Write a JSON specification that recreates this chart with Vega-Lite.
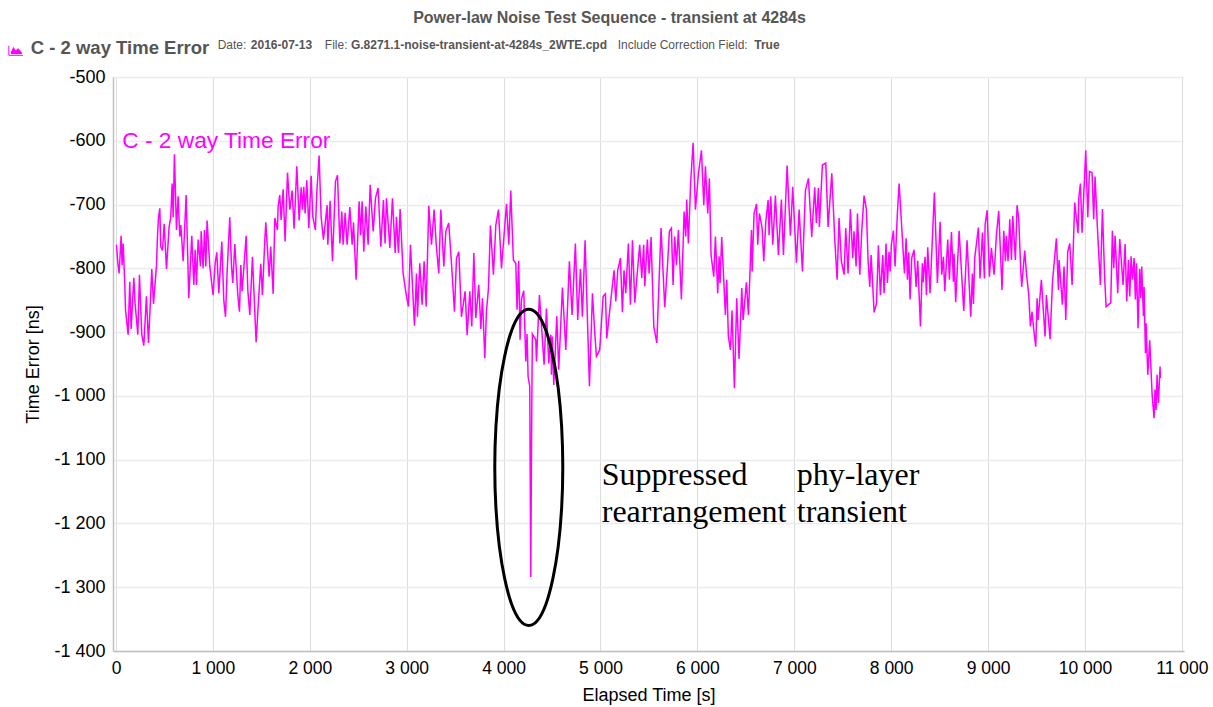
{"$schema":"https://vega.github.io/schema/vega-lite/v6.json","width":1071,"height":574,"autosize":{"type":"none"},"padding":{"left":113,"top":77,"right":29,"bottom":56},"background":"white","title":{"text":"Power-law Noise Test Sequence - transient at 4284s","anchor":"middle","dx":-39,"offset":13,"fontSize":16,"fontWeight":"bold","color":"#555555","font":"Liberation Sans"},"config":{"view":{"stroke":null},"font":"Liberation Sans"},"encoding":{"x":{"field":"t","type":"quantitative","scale":{"domain":[-31,11022],"nice":false,"zero":false},"axis":{"title":"Elapsed Time [s]","titleFontSize":18,"titleFontWeight":"normal","titleColor":"#000000","titlePadding":10,"labelFontSize":17.5,"labelColor":"#000000","labelPadding":8,"tickSize":0,"values":[0,1000,2000,3000,4000,5000,6000,7000,8000,9000,10000,11000],"labelExpr":"replace(format(datum.value, ','), ',', ' ')","gridColor":"#dddddd","gridWidth":1,"domainColor":"#c0c0c0","domainWidth":1.5,"labelFlush":false}},"y":{"field":"v","type":"quantitative","scale":{"domain":[-1400,-500],"nice":false,"zero":false},"axis":{"title":"Time Error [ns]","titleFontSize":18,"titleFontWeight":"normal","titleColor":"#000000","titlePadding":11,"labelFontSize":18,"labelColor":"#000000","labelPadding":8,"tickSize":0,"values":[-1400,-1300,-1200,-1100,-1000,-900,-800,-700,-600,-500],"labelExpr":"replace(replace(format(datum.value, ','), ',', ' '), '−', '-')","gridColor":"#ebebeb","gridWidth":1.5,"domainColor":"#c0c0c0","domainWidth":1.5}}},"layer":[{"data":{"values":[{"t":5,"v":-763},{"t":19,"v":-792},{"t":32,"v":-808},{"t":53,"v":-749},{"t":63,"v":-795},{"t":74,"v":-761},{"t":91,"v":-826},{"t":98,"v":-865},{"t":125,"v":-904},{"t":142,"v":-821},{"t":156,"v":-895},{"t":184,"v":-815},{"t":197,"v":-855},{"t":225,"v":-904},{"t":242,"v":-810},{"t":266,"v":-904},{"t":287,"v":-921},{"t":314,"v":-844},{"t":335,"v":-917},{"t":356,"v":-849},{"t":369,"v":-801},{"t":387,"v":-856},{"t":418,"v":-795},{"t":428,"v":-750},{"t":438,"v":-721},{"t":452,"v":-706},{"t":462,"v":-766},{"t":480,"v":-772},{"t":497,"v":-730},{"t":521,"v":-801},{"t":548,"v":-735},{"t":565,"v":-720},{"t":579,"v":-667},{"t":590,"v":-720},{"t":603,"v":-621},{"t":624,"v":-740},{"t":641,"v":-687},{"t":658,"v":-750},{"t":669,"v":-732},{"t":693,"v":-789},{"t":724,"v":-685},{"t":751,"v":-847},{"t":782,"v":-749},{"t":803,"v":-826},{"t":817,"v":-771},{"t":830,"v":-826},{"t":848,"v":-755},{"t":872,"v":-797},{"t":879,"v":-742},{"t":899,"v":-800},{"t":913,"v":-740},{"t":927,"v":-797},{"t":940,"v":-725},{"t":968,"v":-797},{"t":1002,"v":-842},{"t":1023,"v":-792},{"t":1040,"v":-775},{"t":1061,"v":-839},{"t":1092,"v":-758},{"t":1112,"v":-849},{"t":1130,"v":-876},{"t":1147,"v":-805},{"t":1174,"v":-720},{"t":1192,"v":-797},{"t":1205,"v":-823},{"t":1226,"v":-762},{"t":1257,"v":-842},{"t":1274,"v":-868},{"t":1288,"v":-795},{"t":1302,"v":-836},{"t":1343,"v":-749},{"t":1360,"v":-834},{"t":1381,"v":-873},{"t":1408,"v":-782},{"t":1446,"v":-916},{"t":1470,"v":-852},{"t":1494,"v":-793},{"t":1511,"v":-842},{"t":1536,"v":-755},{"t":1546,"v":-728},{"t":1580,"v":-813},{"t":1597,"v":-766},{"t":1622,"v":-840},{"t":1639,"v":-721},{"t":1666,"v":-740},{"t":1673,"v":-703},{"t":1690,"v":-685},{"t":1704,"v":-724},{"t":1725,"v":-676},{"t":1745,"v":-758},{"t":1770,"v":-650},{"t":1794,"v":-708},{"t":1818,"v":-678},{"t":1838,"v":-738},{"t":1866,"v":-640},{"t":1890,"v":-725},{"t":1911,"v":-673},{"t":1924,"v":-708},{"t":1938,"v":-672},{"t":1952,"v":-714},{"t":1969,"v":-662},{"t":1990,"v":-737},{"t":2014,"v":-655},{"t":2031,"v":-719},{"t":2058,"v":-740},{"t":2072,"v":-682},{"t":2096,"v":-623},{"t":2117,"v":-720},{"t":2141,"v":-755},{"t":2179,"v":-701},{"t":2186,"v":-763},{"t":2210,"v":-694},{"t":2234,"v":-789},{"t":2265,"v":-664},{"t":2286,"v":-654},{"t":2310,"v":-761},{"t":2330,"v":-711},{"t":2344,"v":-763},{"t":2365,"v":-713},{"t":2385,"v":-763},{"t":2413,"v":-704},{"t":2437,"v":-763},{"t":2451,"v":-728},{"t":2478,"v":-818},{"t":2509,"v":-695},{"t":2525,"v":-748},{"t":2540,"v":-695},{"t":2557,"v":-774},{"t":2578,"v":-703},{"t":2602,"v":-763},{"t":2623,"v":-669},{"t":2654,"v":-742},{"t":2678,"v":-690},{"t":2705,"v":-674},{"t":2733,"v":-766},{"t":2760,"v":-693},{"t":2777,"v":-761},{"t":2791,"v":-690},{"t":2826,"v":-768},{"t":2853,"v":-690},{"t":2881,"v":-776},{"t":2894,"v":-719},{"t":2915,"v":-776},{"t":2932,"v":-707},{"t":2963,"v":-808},{"t":2998,"v":-844},{"t":3018,"v":-860},{"t":3039,"v":-763},{"t":3080,"v":-890},{"t":3101,"v":-808},{"t":3111,"v":-876},{"t":3135,"v":-792},{"t":3159,"v":-857},{"t":3180,"v":-789},{"t":3201,"v":-860},{"t":3228,"v":-702},{"t":3256,"v":-763},{"t":3283,"v":-708},{"t":3304,"v":-761},{"t":3331,"v":-808},{"t":3352,"v":-708},{"t":3383,"v":-797},{"t":3404,"v":-742},{"t":3434,"v":-729},{"t":3469,"v":-808},{"t":3493,"v":-868},{"t":3514,"v":-784},{"t":3538,"v":-774},{"t":3565,"v":-876},{"t":3603,"v":-836},{"t":3624,"v":-905},{"t":3651,"v":-836},{"t":3672,"v":-891},{"t":3693,"v":-776},{"t":3713,"v":-878},{"t":3744,"v":-826},{"t":3765,"v":-895},{"t":3782,"v":-847},{"t":3806,"v":-941},{"t":3823,"v":-868},{"t":3844,"v":-831},{"t":3864,"v":-733},{"t":3895,"v":-810},{"t":3920,"v":-732},{"t":3947,"v":-708},{"t":3978,"v":-800},{"t":4030,"v":-699},{"t":4054,"v":-763},{"t":4074,"v":-678},{"t":4101,"v":-787},{"t":4126,"v":-792},{"t":4139,"v":-865},{"t":4156,"v":-788},{"t":4170,"v":-912},{"t":4184,"v":-849},{"t":4208,"v":-835},{"t":4229,"v":-946},{"t":4242,"v":-903},{"t":4253,"v":-970},{"t":4270,"v":-985},{"t":4280,"v":-1284},{"t":4291,"v":-1015},{"t":4297,"v":-903},{"t":4332,"v":-912},{"t":4339,"v":-946},{"t":4370,"v":-842},{"t":4418,"v":-951},{"t":4442,"v":-863},{"t":4466,"v":-949},{"t":4487,"v":-904},{"t":4494,"v":-967},{"t":4504,"v":-907},{"t":4518,"v":-983},{"t":4549,"v":-875},{"t":4569,"v":-959},{"t":4607,"v":-830},{"t":4642,"v":-928},{"t":4679,"v":-789},{"t":4707,"v":-873},{"t":4741,"v":-761},{"t":4765,"v":-881},{"t":4793,"v":-801},{"t":4813,"v":-876},{"t":4841,"v":-756},{"t":4886,"v":-985},{"t":4917,"v":-839},{"t":4941,"v":-902},{"t":4958,"v":-938},{"t":4992,"v":-928},{"t":5027,"v":-844},{"t":5051,"v":-840},{"t":5065,"v":-910},{"t":5103,"v":-855},{"t":5140,"v":-803},{"t":5158,"v":-852},{"t":5178,"v":-803},{"t":5206,"v":-784},{"t":5226,"v":-869},{"t":5243,"v":-803},{"t":5261,"v":-839},{"t":5288,"v":-761},{"t":5309,"v":-857},{"t":5330,"v":-756},{"t":5354,"v":-854},{"t":5388,"v":-792},{"t":5405,"v":-763},{"t":5426,"v":-815},{"t":5446,"v":-763},{"t":5457,"v":-828},{"t":5484,"v":-755},{"t":5502,"v":-808},{"t":5522,"v":-751},{"t":5550,"v":-891},{"t":5581,"v":-917},{"t":5605,"v":-818},{"t":5625,"v":-737},{"t":5663,"v":-861},{"t":5691,"v":-797},{"t":5711,"v":-742},{"t":5732,"v":-737},{"t":5749,"v":-826},{"t":5766,"v":-750},{"t":5784,"v":-795},{"t":5804,"v":-740},{"t":5835,"v":-849},{"t":5863,"v":-711},{"t":5880,"v":-750},{"t":5890,"v":-692},{"t":5907,"v":-761},{"t":5931,"v":-664},{"t":5956,"v":-603},{"t":5980,"v":-708},{"t":6011,"v":-651},{"t":6042,"v":-615},{"t":6066,"v":-701},{"t":6083,"v":-640},{"t":6107,"v":-714},{"t":6124,"v":-659},{"t":6141,"v":-779},{"t":6169,"v":-813},{"t":6186,"v":-750},{"t":6210,"v":-839},{"t":6224,"v":-781},{"t":6234,"v":-823},{"t":6251,"v":-751},{"t":6289,"v":-873},{"t":6303,"v":-818},{"t":6320,"v":-907},{"t":6341,"v":-928},{"t":6358,"v":-866},{"t":6382,"v":-988},{"t":6406,"v":-847},{"t":6430,"v":-942},{"t":6458,"v":-831},{"t":6472,"v":-881},{"t":6506,"v":-822},{"t":6527,"v":-873},{"t":6558,"v":-740},{"t":6565,"v":-805},{"t":6585,"v":-714},{"t":6610,"v":-699},{"t":6623,"v":-763},{"t":6640,"v":-714},{"t":6668,"v":-737},{"t":6685,"v":-789},{"t":6706,"v":-727},{"t":6730,"v":-693},{"t":6740,"v":-748},{"t":6757,"v":-687},{"t":6778,"v":-763},{"t":6805,"v":-686},{"t":6836,"v":-779},{"t":6867,"v":-692},{"t":6888,"v":-779},{"t":6926,"v":-639},{"t":6960,"v":-749},{"t":6984,"v":-672},{"t":7022,"v":-791},{"t":7050,"v":-708},{"t":7084,"v":-805},{"t":7115,"v":-678},{"t":7146,"v":-659},{"t":7180,"v":-751},{"t":7211,"v":-673},{"t":7228,"v":-729},{"t":7249,"v":-674},{"t":7259,"v":-735},{"t":7290,"v":-638},{"t":7325,"v":-635},{"t":7349,"v":-735},{"t":7387,"v":-651},{"t":7418,"v":-755},{"t":7442,"v":-818},{"t":7462,"v":-721},{"t":7486,"v":-789},{"t":7514,"v":-810},{"t":7531,"v":-737},{"t":7555,"v":-808},{"t":7579,"v":-707},{"t":7603,"v":-784},{"t":7617,"v":-742},{"t":7638,"v":-797},{"t":7652,"v":-714},{"t":7676,"v":-810},{"t":7696,"v":-742},{"t":7720,"v":-686},{"t":7744,"v":-707},{"t":7762,"v":-789},{"t":7779,"v":-829},{"t":7793,"v":-779},{"t":7824,"v":-869},{"t":7848,"v":-855},{"t":7868,"v":-764},{"t":7889,"v":-842},{"t":7913,"v":-779},{"t":7927,"v":-839},{"t":7947,"v":-761},{"t":7961,"v":-823},{"t":7978,"v":-774},{"t":7989,"v":-805},{"t":8002,"v":-763},{"t":8023,"v":-741},{"t":8040,"v":-797},{"t":8064,"v":-714},{"t":8082,"v":-667},{"t":8137,"v":-808},{"t":8154,"v":-753},{"t":8168,"v":-818},{"t":8181,"v":-775},{"t":8195,"v":-849},{"t":8212,"v":-784},{"t":8236,"v":-771},{"t":8257,"v":-829},{"t":8274,"v":-788},{"t":8302,"v":-891},{"t":8322,"v":-792},{"t":8329,"v":-822},{"t":8350,"v":-782},{"t":8364,"v":-842},{"t":8377,"v":-767},{"t":8401,"v":-839},{"t":8425,"v":-754},{"t":8446,"v":-681},{"t":8477,"v":-823},{"t":8505,"v":-727},{"t":8522,"v":-810},{"t":8539,"v":-782},{"t":8553,"v":-836},{"t":8584,"v":-755},{"t":8601,"v":-818},{"t":8622,"v":-743},{"t":8642,"v":-821},{"t":8649,"v":-777},{"t":8666,"v":-853},{"t":8701,"v":-741},{"t":8749,"v":-867},{"t":8783,"v":-756},{"t":8821,"v":-876},{"t":8838,"v":-808},{"t":8849,"v":-856},{"t":8862,"v":-784},{"t":8900,"v":-736},{"t":8917,"v":-816},{"t":8942,"v":-744},{"t":8962,"v":-816},{"t":8969,"v":-732},{"t":8990,"v":-709},{"t":9014,"v":-813},{"t":9034,"v":-768},{"t":9062,"v":-810},{"t":9086,"v":-748},{"t":9110,"v":-710},{"t":9144,"v":-834},{"t":9162,"v":-741},{"t":9179,"v":-789},{"t":9189,"v":-749},{"t":9206,"v":-789},{"t":9224,"v":-723},{"t":9241,"v":-787},{"t":9255,"v":-718},{"t":9282,"v":-787},{"t":9299,"v":-701},{"t":9316,"v":-721},{"t":9337,"v":-802},{"t":9347,"v":-829},{"t":9378,"v":-772},{"t":9396,"v":-808},{"t":9420,"v":-842},{"t":9437,"v":-891},{"t":9454,"v":-868},{"t":9471,"v":-896},{"t":9492,"v":-923},{"t":9506,"v":-847},{"t":9516,"v":-881},{"t":9550,"v":-818},{"t":9588,"v":-907},{"t":9602,"v":-842},{"t":9640,"v":-911},{"t":9664,"v":-823},{"t":9678,"v":-798},{"t":9705,"v":-753},{"t":9726,"v":-834},{"t":9733,"v":-787},{"t":9767,"v":-857},{"t":9784,"v":-797},{"t":9802,"v":-881},{"t":9822,"v":-774},{"t":9843,"v":-761},{"t":9867,"v":-826},{"t":9894,"v":-697},{"t":9929,"v":-745},{"t":9936,"v":-690},{"t":9953,"v":-667},{"t":9970,"v":-744},{"t":10008,"v":-615},{"t":10029,"v":-720},{"t":10046,"v":-648},{"t":10073,"v":-650},{"t":10090,"v":-723},{"t":10104,"v":-656},{"t":10128,"v":-735},{"t":10159,"v":-826},{"t":10180,"v":-707},{"t":10204,"v":-818},{"t":10218,"v":-860},{"t":10242,"v":-857},{"t":10266,"v":-854},{"t":10283,"v":-741},{"t":10297,"v":-800},{"t":10311,"v":-749},{"t":10338,"v":-839},{"t":10359,"v":-754},{"t":10393,"v":-826},{"t":10414,"v":-762},{"t":10431,"v":-852},{"t":10448,"v":-787},{"t":10462,"v":-844},{"t":10476,"v":-781},{"t":10490,"v":-818},{"t":10507,"v":-784},{"t":10520,"v":-849},{"t":10531,"v":-792},{"t":10548,"v":-894},{"t":10565,"v":-801},{"t":10576,"v":-847},{"t":10586,"v":-797},{"t":10603,"v":-875},{"t":10610,"v":-829},{"t":10624,"v":-933},{"t":10631,"v":-886},{"t":10648,"v":-967},{"t":10668,"v":-913},{"t":10693,"v":-998},{"t":10713,"v":-1035},{"t":10723,"v":-990},{"t":10734,"v":-1022},{"t":10744,"v":-967},{"t":10758,"v":-1011},{"t":10775,"v":-954},{"t":10778,"v":-972}]},"mark":{"type":"line","color":"#ff00ff","strokeWidth":1.5,"interpolate":"linear"}},{"data":{"values":[{"i":0,"t":4611,"v":-1112},{"i":1,"t":4599,"v":-1048},{"i":2,"t":4564,"v":-988},{"i":3,"t":4508,"v":-937},{"i":4,"t":4436,"v":-897},{"i":5,"t":4351,"v":-872},{"i":6,"t":4260,"v":-864},{"i":7,"t":4169,"v":-872},{"i":8,"t":4084,"v":-897},{"i":9,"t":4012,"v":-937},{"i":10,"t":3956,"v":-988},{"i":11,"t":3921,"v":-1048},{"i":12,"t":3909,"v":-1112},{"i":13,"t":3921,"v":-1176},{"i":14,"t":3956,"v":-1236},{"i":15,"t":4012,"v":-1287},{"i":16,"t":4084,"v":-1327},{"i":17,"t":4169,"v":-1352},{"i":18,"t":4260,"v":-1360},{"i":19,"t":4351,"v":-1352},{"i":20,"t":4436,"v":-1327},{"i":21,"t":4508,"v":-1287},{"i":22,"t":4564,"v":-1236},{"i":23,"t":4599,"v":-1176}]},"mark":{"type":"line","color":"#000000","strokeWidth":3,"interpolate":"cardinal-closed"},"encoding":{"order":{"field":"i","type":"quantitative"}}},{"data":{"values":[{"t":-1085,"v":-461,"b":-464},{"t":-1060,"v":-453,"b":-464},{"t":-1035,"v":-458,"b":-464},{"t":-1010,"v":-455,"b":-464},{"t":-990,"v":-458,"b":-464},{"t":-970,"v":-462,"b":-464}]},"mark":{"type":"area","color":"#ff00ff"},"encoding":{"y2":{"field":"b"}}},{"data":{"values":[{"i":0,"t":-1106,"v":-451},{"i":1,"t":-1106,"v":-466},{"i":2,"t":-960,"v":-466}]},"mark":{"type":"line","color":"#ff00ff","strokeWidth":1},"encoding":{"order":{"field":"i","type":"quantitative"}}},{"data":{"values":[{"t":-880,"v":-464,"label":"C - 2 way Time Error"}]},"mark":{"type":"text","align":"left","baseline":"alphabetic","fontSize":18.5,"fontWeight":"bold","color":"#555555","font":"Liberation Sans"},"encoding":{"text":{"field":"label"}}},{"data":{"values":[{"t":1049,"v":-456,"label":"Date:"},{"t":2155,"v":-456,"label":"File:"},{"t":5177,"v":-456,"label":"Include Correction Field:"}]},"mark":{"type":"text","align":"left","baseline":"alphabetic","fontSize":12,"color":"#555555","font":"Liberation Sans"},"encoding":{"text":{"field":"label"}}},{"data":{"values":[{"t":1391,"v":-456,"label":"2016-07-13"},{"t":2424,"v":-456,"label":"G.8271.1-noise-transient-at-4284s_2WTE.cpd"},{"t":6587,"v":-456,"label":"True"}]},"mark":{"type":"text","align":"left","baseline":"alphabetic","fontSize":12,"fontWeight":"bold","color":"#555555","font":"Liberation Sans"},"encoding":{"text":{"field":"label"}}},{"data":{"values":[{"t":65,"v":-611,"label":"C - 2 way Time Error"}]},"mark":{"type":"text","align":"left","baseline":"alphabetic","fontSize":22.7,"color":"#ff00ff","font":"Liberation Sans"},"encoding":{"text":{"field":"label"}}},{"data":{"values":[{"t":5013,"v":-1140,"label":"Suppressed"},{"t":5013,"v":-1197,"label":"rearrangement"},{"t":7026,"v":-1140,"label":"phy-layer"},{"t":7026,"v":-1197,"label":"transient"}]},"mark":{"type":"text","align":"left","baseline":"alphabetic","fontSize":32,"color":"#000000","font":"Liberation Serif"},"encoding":{"text":{"field":"label"}}}]}
